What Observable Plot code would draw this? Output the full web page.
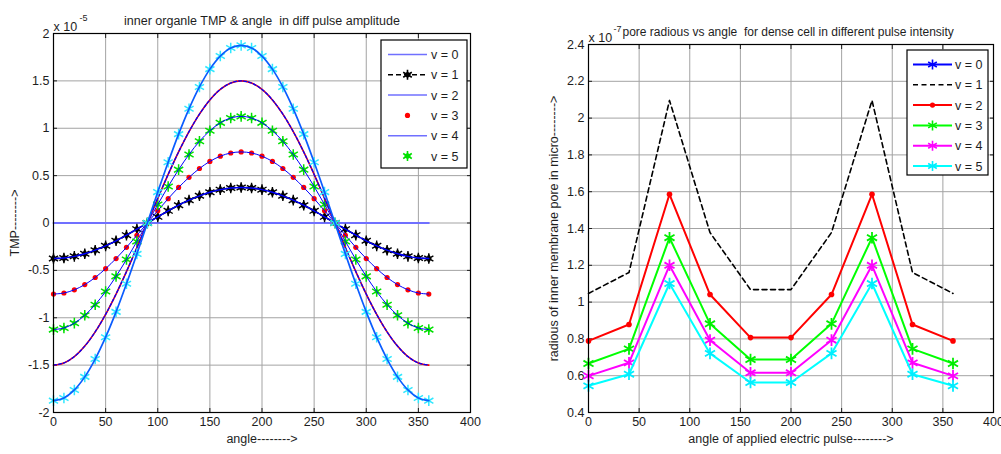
<!DOCTYPE html>
<html><head><meta charset="utf-8">
<script src="https://cdn.jsdelivr.net/npm/d3@7"></script>
<script src="https://cdn.jsdelivr.net/npm/@observablehq/plot@0.6"></script>
<style>
html,body{margin:0;padding:0;background:#fff;}
#wrap{position:relative;width:1001px;height:454px;overflow:hidden;font-family:"Liberation Sans",Arial,sans-serif;}
#left,#right,#leg{position:absolute;top:0;}
#left{left:0;} #right{left:500px;} #leg{left:0;}
</style></head><body>
<div id="wrap"><div id="left"></div><div id="right"></div><svg id="leg" width="1001" height="454"></svg></div>
<script>
// ---------- left panel data (TMP in units of 1e-5) ----------
const angles = [0,10,20,30,40,50,60,70,80,90,100,110,120,130,140,150,160,170,180,190,200,210,220,230,240,250,260,270,280,290,300,310,320,330,340,350,360];
const tmpV0 = [0,0,0,0,0,0,0,0,0,0,0,0,0,0,0,0,0,0,0,0,0,0,0,0,0,0,0,0,0,0,0,0,0,0,0,0,0];
const tmpV1 = [-0.375,-0.369,-0.352,-0.325,-0.287,-0.241,-0.188,-0.128,-0.065,0,0.065,0.128,0.188,0.241,0.287,0.325,0.352,0.369,0.375,0.369,0.352,0.325,0.287,0.241,0.188,0.128,0.065,0,-0.065,-0.128,-0.188,-0.241,-0.287,-0.325,-0.352,-0.369,-0.375];
const tmpV2 = [-0.75,-0.739,-0.705,-0.65,-0.575,-0.482,-0.375,-0.257,-0.13,0,0.13,0.257,0.375,0.482,0.575,0.65,0.705,0.739,0.75,0.739,0.705,0.65,0.575,0.482,0.375,0.257,0.13,0,-0.13,-0.257,-0.375,-0.482,-0.575,-0.65,-0.705,-0.739,-0.75];
const tmpV3 = [-1.125,-1.108,-1.057,-0.974,-0.862,-0.723,-0.563,-0.385,-0.195,0,0.195,0.385,0.563,0.723,0.862,0.974,1.057,1.108,1.125,1.108,1.057,0.974,0.862,0.723,0.563,0.385,0.195,0,-0.195,-0.385,-0.563,-0.723,-0.862,-0.974,-1.057,-1.108,-1.125];
const tmpV4 = [-1.5,-1.477,-1.41,-1.299,-1.149,-0.964,-0.75,-0.513,-0.26,0,0.26,0.513,0.75,0.964,1.149,1.299,1.41,1.477,1.5,1.477,1.41,1.299,1.149,0.964,0.75,0.513,0.26,0,-0.26,-0.513,-0.75,-0.964,-1.149,-1.299,-1.41,-1.477,-1.5];
const tmpV5 = [-1.875,-1.847,-1.762,-1.624,-1.436,-1.205,-0.938,-0.641,-0.326,0,0.326,0.641,0.938,1.205,1.436,1.624,1.762,1.847,1.875,1.847,1.762,1.624,1.436,1.205,0.938,0.641,0.326,0,-0.326,-0.641,-0.938,-1.205,-1.436,-1.624,-1.762,-1.847,-1.875];
const leftXTicks = [0,50,100,150,200,250,300,350,400];
const leftYTicks = [-2,-1.5,-1,-0.5,0,0.5,1,1.5,2];
const leftTitle = "inner organle TMP & angle  in diff pulse amplitude";
const leftXLabel = "angle-------->";
const leftYLabel = "TMP-------->";
const leftExp = "-5";

// ---------- right panel data (pore radius in units of 1e-7) ----------
const poreAngles = [0,40,80,120,160,200,240,280,320,360];
const poreV1 = [1.047,1.161,2.096,1.378,1.068,1.068,1.378,2.096,1.161,1.047];
const poreV2 = [0.789,0.878,1.586,1.041,0.807,0.807,1.041,1.586,0.878,0.789];
const poreV3 = [0.666,0.746,1.35,0.882,0.688,0.688,0.882,1.35,0.746,0.666];
const poreV4 = [0.599,0.67,1.2,0.793,0.616,0.616,0.793,1.2,0.67,0.599];
const poreV5 = [0.545,0.608,1.101,0.721,0.563,0.563,0.721,1.101,0.608,0.545];
const rightXTicks = [0,50,100,150,200,250,300,350,400];
const rightYTicks = [0.4,0.6,0.8,1,1.2,1.4,1.6,1.8,2,2.2,2.4];
const rightTitle = "pore radious vs angle  for dense cell in different pulse intensity";
const rightXLabel = "angle of applied electric pulse-------->";
const rightYLabel = "radious of inner membrane pore in micro-------->";
const rightExp = "-7";
const legendLabels = ["v = 0","v = 1","v = 2","v = 3","v = 4","v = 5"];

const fmt = d => String(+(+d).toFixed(2));
const FONT = "'Liberation Sans', Arial, sans-serif";
const GRID = "#a3a3a3";
const TXT = "#1e1e1e";

function matlabAxes(xt, yt, opts) {
  const {yLabelDx, titleDy, expDy, title, xl, yl, exp, titleStart, titleSize, expDx} = opts;
  return [
    Plot.gridX(xt, {stroke: GRID, strokeOpacity: 1, strokeWidth: 1}),
    Plot.gridY(yt, {stroke: GRID, strokeOpacity: 1, strokeWidth: 1}),
    Plot.axisX(xt, {anchor: "bottom", tickSize: 0, tickPadding: 5, tickFormat: fmt, label: null, fontSize: 12.5, fill: TXT}),
    Plot.axisY(yt, {anchor: "left", tickSize: 0, tickPadding: 4, tickFormat: fmt, label: null, fontSize: 12.5, fill: TXT}),
    Plot.axisX(xt, {anchor: "bottom", tickSize: -4, tickFormat: () => "", label: null}),
    Plot.axisX(xt, {anchor: "top", tickSize: -4, tickFormat: () => "", label: null}),
    Plot.axisY(yt, {anchor: "left", tickSize: -4, tickFormat: () => "", label: null}),
    Plot.axisY(yt, {anchor: "right", tickSize: -4, tickFormat: () => "", label: null}),
    titleStart == null
      ? Plot.text([title], {frameAnchor: "top", textAnchor: "middle", dy: titleDy, text: d => d, fontSize: titleSize, fill: TXT})
      : Plot.text([title], {frameAnchor: "top-left", textAnchor: "start", dx: titleStart, dy: titleDy, text: d => d, fontSize: titleSize, fill: TXT}),
    Plot.text([xl], {frameAnchor: "bottom", textAnchor: "middle", dy: 30, text: d => d, fontSize: 12.5, fill: TXT}),
    Plot.text([yl], {frameAnchor: "left", textAnchor: "middle", dx: yLabelDx, rotate: -90, text: d => d, fontSize: 12.5, fill: TXT}),
    Plot.text(["x 10"], {frameAnchor: "top-left", textAnchor: "start", dy: expDy, text: d => d, fontSize: 12.5, fill: TXT}),
    Plot.text([exp], {frameAnchor: "top-left", textAnchor: "start", dx: expDx, dy: expDy - 8, text: d => d, fontSize: 9, fill: TXT})
  ];
}

// ---------- left plot ----------
const curve = "catmull-rom";
const left = Plot.plot({
  width: 500, height: 454,
  marginLeft: 53, marginRight: 30, marginTop: 33, marginBottom: 42,
  x: {domain: [0, 400]},
  y: {domain: [-2, 2]},
  style: {fontFamily: FONT, fontSize: "12.5px", background: "transparent", color: TXT},
  marks: [
    ...matlabAxes(leftXTicks, leftYTicks, {yLabelDx: -39, titleDy: -17, expDy: -11, title: leftTitle, xl: leftXLabel, yl: leftYLabel, exp: leftExp, titleStart: null, titleSize: 12.5, expDx: 26}),
    Plot.line(tmpV0, {x: angles, y: tmpV0, stroke: "#7070ff", strokeWidth: 2}),
    // v1 amplitude: black dashed + markers + blue line
    Plot.line(tmpV1, {x: angles, y: tmpV1, curve, stroke: "black", strokeWidth: 1.6, strokeDasharray: "5,3"}),
    Plot.dot(tmpV1, {x: angles, y: tmpV1, symbol: "asterisk", r: 5, stroke: "black", strokeWidth: 1.4}),
    Plot.dot(tmpV1, {x: angles, y: tmpV1, symbol: "diamond", r: 3, fill: "black"}),
    Plot.line(tmpV1, {x: angles, y: tmpV1, curve, stroke: "#0000ff", strokeWidth: 1.4}),
    // red dots
    Plot.dot(tmpV2, {x: angles, y: tmpV2, r: 2.6, fill: "#ff0000"}),
    Plot.line(tmpV2, {x: angles, y: tmpV2, curve, stroke: "#0000ff", strokeWidth: 1}),
    // green stars
    Plot.dot(tmpV3, {x: angles, y: tmpV3, symbol: "asterisk", r: 5, stroke: "#00e000", strokeWidth: 1.5}),
    Plot.dot(tmpV3, {x: angles, y: tmpV3, symbol: "diamond", r: 2.2, fill: "#00e000"}),
    Plot.line(tmpV3, {x: angles, y: tmpV3, curve, stroke: "#0000ff", strokeWidth: 1}),
    // purple (red + blue dashed)
    Plot.line(tmpV4, {x: angles, y: tmpV4, curve, stroke: "#ff0000", strokeWidth: 1.6}),
    Plot.line(tmpV4, {x: angles, y: tmpV4, curve, stroke: "#0000ff", strokeWidth: 1.3, strokeDasharray: "3,2"}),
    // cyan stars
    Plot.dot(tmpV5, {x: angles, y: tmpV5, symbol: "asterisk", r: 5, stroke: "#30e8ff", strokeWidth: 1.5}),
    Plot.line(tmpV5, {x: angles, y: tmpV5, curve, stroke: "#0a5cff", strokeWidth: 1.7}),
    Plot.frame({stroke: "black", strokeWidth: 1.2})
  ]
});
document.getElementById("left").appendChild(left);

// ---------- right plot ----------
const right = Plot.plot({
  width: 501, height: 454,
  marginLeft: 88, marginRight: 8, marginTop: 44, marginBottom: 42,
  x: {domain: [0, 400]},
  y: {domain: [0.4, 2.4]},
  style: {fontFamily: FONT, fontSize: "12.5px", background: "transparent", color: TXT, overflow: "visible"},
  marks: [
    ...matlabAxes(rightXTicks, rightYTicks, {yLabelDx: -35, titleDy: -17, expDy: -11, title: rightTitle, xl: rightXLabel, yl: rightYLabel, exp: rightExp, titleStart: 34, titleSize: 12, expDx: 25}),
    Plot.line(poreV1, {x: poreAngles, y: poreV1, stroke: "black", strokeWidth: 1.6, strokeDasharray: "5,3.5"}),
    Plot.line(poreV2, {x: poreAngles, y: poreV2, stroke: "#ff0000", strokeWidth: 2}),
    Plot.dot(poreV2, {x: poreAngles, y: poreV2, r: 2.8, fill: "#ff0000"}),
    Plot.line(poreV3, {x: poreAngles, y: poreV3, stroke: "#00ff00", strokeWidth: 2}),
    Plot.dot(poreV3, {x: poreAngles, y: poreV3, symbol: "asterisk", r: 5.5, stroke: "#00ee00", strokeWidth: 1.8}),
    Plot.line(poreV4, {x: poreAngles, y: poreV4, stroke: "#ff00ff", strokeWidth: 2}),
    Plot.dot(poreV4, {x: poreAngles, y: poreV4, symbol: "asterisk", r: 5.5, stroke: "#ff00ff", strokeWidth: 1.8}),
    Plot.line(poreV5, {x: poreAngles, y: poreV5, stroke: "#00ffff", strokeWidth: 2}),
    Plot.dot(poreV5, {x: poreAngles, y: poreV5, symbol: "asterisk", r: 5.5, stroke: "#00eeff", strokeWidth: 1.8}),
    Plot.frame({stroke: "black", strokeWidth: 1.2})
  ]
});
document.getElementById("right").appendChild(right);

// ---------- legends ----------
const leg = d3.select("#leg");
function drawLegend(box, rows, lineX1, lineX2, textX) {
  leg.append("rect").attr("x", box[0]).attr("y", box[1]).attr("width", box[2]).attr("height", box[3])
    .attr("fill", "white").attr("stroke", "black").attr("stroke-width", 1.2);
  rows.forEach((r, i) => {
    const y = box[1] + 14.5 + i * 20.3;
    const mx = (lineX1 + lineX2) / 2;
    if (r.line) leg.append("line").attr("x1", lineX1).attr("x2", lineX2).attr("y1", y).attr("y2", y)
      .attr("stroke", r.line).attr("stroke-width", r.w || 1.5).attr("stroke-dasharray", r.dash || null);
    if (r.dot) leg.append("circle").attr("cx", mx).attr("cy", y).attr("r", 2.6).attr("fill", r.dot);
    if (r.star) {
      const s = 5;
      const p = d3.path();
      for (let k = 0; k < 3; k++) { const a = Math.PI / 2 + k * Math.PI / 3; p.moveTo(mx + s * Math.cos(a), y + s * Math.sin(a)); p.lineTo(mx - s * Math.cos(a), y - s * Math.sin(a)); }
      leg.append("path").attr("d", p.toString()).attr("stroke", r.star).attr("stroke-width", 1.6).attr("fill", "none");
    }
    if (r.diamond) leg.append("path").attr("d", `M${mx},${y-3.5}L${mx+3.5},${y}L${mx},${y+3.5}L${mx-3.5},${y}Z`).attr("fill", r.diamond);
    leg.append("text").attr("x", textX).attr("y", y).attr("dy", "0.36em").attr("font-family", FONT)
      .attr("font-size", 12.5).attr("fill", TXT).text(legendLabels[i]);
  });
}
drawLegend([381, 40, 86, 128], [
  {line: "#7070ff", w: 1.5},
  {line: "black", w: 1.6, dash: "5,3", star: "black", diamond: "black"},
  {line: "#7070ff", w: 1.5},
  {dot: "#ff0000"},
  {line: "#7070ff", w: 1.5},
  {star: "#00e000", diamond: "#00e000"}
], 388, 427, 431);
drawLegend([907, 50, 81, 125], [
  {line: "#0000ff", w: 2, star: "#0000ff"},
  {line: "black", w: 1.6, dash: "5,3.5"},
  {line: "#ff0000", w: 2, dot: "#ff0000"},
  {line: "#00ff00", w: 2, star: "#00ee00"},
  {line: "#ff00ff", w: 2, star: "#ff00ff"},
  {line: "#00ffff", w: 2, star: "#00eeff"}
], 913, 952, 955);
</script>
</body></html>
